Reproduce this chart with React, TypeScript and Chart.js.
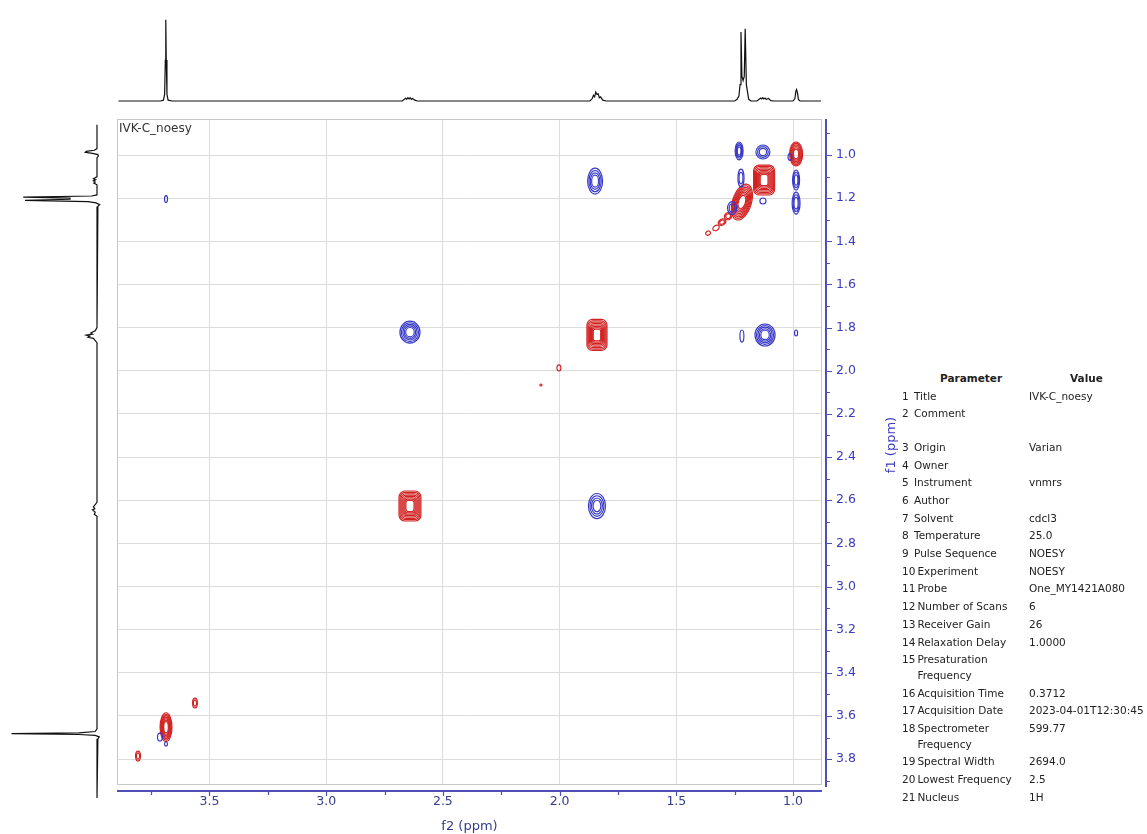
import React, { useEffect, useRef } from "react";
import { Chart, registerables } from "chart.js";

Chart.register(...registerables);

const FONT = "'DejaVu Sans', Verdana, sans-serif";
const RED = "#d32222";
const BLUE = "#3535c8";
const AXIS_BLUE = "#4f4fb8";
const X_LABEL = "#343c8c";
const Y_LABEL = "#3b3bc0";
const GRID = "#dcdcdc";

// axis ranges (ppm)
const f2Min = 0.876;
const f2Max = 3.896;
const f1Min = 0.833;
const f1Max = 3.92;

// tick labels
const f2Ticks = [1.0, 1.5, 2.0, 2.5, 3.0, 3.5];
const f2MinorTicks = [1.25, 1.75, 2.25, 2.75, 3.25, 3.75];
const f1Ticks = [1.0, 1.2, 1.4, 1.6, 1.8, 2.0, 2.2, 2.4, 2.6, 2.8, 3.0, 3.2, 3.4, 3.6, 3.8];
const f1MinorTicks = [0.9, 1.1, 1.3, 1.5, 1.7, 1.9, 2.1, 2.3, 2.5, 2.7, 2.9, 3.1, 3.3, 3.5, 3.7, 3.9];

// 2D cross peaks: f2, f1 (ppm), signed contour level count, widths (ppm)
const peakF2 = [1.231, 1.129, 0.987, 1.013, 1.124, 1.223, 0.987, 0.987, 1.219, 1.261, 1.129, 1.278, 1.304, 1.33, 1.364, 1.848, 3.686, 2.641, 1.84, 2.003, 2.08, 2.641, 1.84, 1.219, 1.12, 0.987, 3.686, 3.712, 3.686, 3.562, 3.806];
const peakF1 = [0.981, 0.986, 0.995, 1.009, 1.116, 1.107, 1.116, 1.223, 1.218, 1.246, 1.213, 1.283, 1.311, 1.338, 1.362, 1.121, 1.204, 1.821, 1.834, 1.987, 2.066, 2.627, 2.627, 1.839, 1.834, 1.825, 3.652, 3.698, 3.73, 3.54, 3.786];
const peakLevels = [-4, -3, 6, -1, 8, -2, -3, -3, 8, -2, -1, 2, 2, 1, 1, -4, -1, -5, 8, 1, 1, 8, -4, -1, -5, -1, 7, -1, -1, 2, 2];
const peakWidthF2 = [0.034, 0.06, 0.056, 0.017, 0.09, 0.026, 0.03, 0.034, 0.081, 0.039, 0.026, 0.034, 0.034, 0.03, 0.021, 0.064, 0.013, 0.086, 0.086, 0.017, 0.009, 0.094, 0.073, 0.017, 0.086, 0.013, 0.051, 0.021, 0.013, 0.021, 0.021];
const peakWidthF1 = [0.083, 0.065, 0.111, 0.032, 0.139, 0.083, 0.093, 0.102, 0.172, 0.06, 0.028, 0.032, 0.028, 0.023, 0.019, 0.12, 0.032, 0.102, 0.144, 0.028, 0.009, 0.139, 0.116, 0.056, 0.102, 0.028, 0.134, 0.037, 0.019, 0.046, 0.046];

// top (f2) projection trace
const topPpm = [3.89, 3.71, 3.697, 3.692, 3.689, 3.687, 3.685, 3.682, 3.677, 3.66, 2.675, 2.665, 2.66, 2.655, 2.65, 2.645, 2.64, 2.635, 2.63, 2.62, 2.61, 1.87, 1.86, 1.855, 1.85, 1.845, 1.84, 1.835, 1.83, 1.825, 1.815, 1.8, 1.25, 1.24, 1.232, 1.227, 1.223, 1.219, 1.214, 1.209, 1.205, 1.2, 1.19, 1.18, 1.155, 1.145, 1.14, 1.135, 1.13, 1.125, 1.12, 1.115, 1.105, 1.095, 1.08, 1.0, 0.992, 0.988, 0.985, 0.981, 0.977, 0.97, 0.88];
const topIntensity = [0, 0, 0.01, 0.08, 0.5, 0.99, 0.5, 0.08, 0.01, 0, 0, 0.02, 0.035, 0.02, 0.04, 0.025, 0.04, 0.02, 0.03, 0.01, 0, 0, 0.03, 0.07, 0.05, 0.11, 0.08, 0.09, 0.04, 0.05, 0.01, 0, 0, 0.02, 0.06, 0.2, 0.84, 0.3, 0.25, 0.3, 0.88, 0.2, 0.02, 0, 0, 0.02, 0.035, 0.025, 0.04, 0.025, 0.035, 0.02, 0.03, 0.005, 0, 0, 0.03, 0.12, 0.14, 0.1, 0.02, 0, 0];

// left (f1) projection trace
const leftPpm = [0.86, 0.97, 0.978, 0.983, 0.987, 0.992, 0.998, 1.005, 1.012, 1.1, 1.105, 1.11, 1.115, 1.12, 1.125, 1.13, 1.138, 1.185, 1.19, 1.195, 1.2, 1.205, 1.21, 1.216, 1.222, 1.23, 1.238, 1.248, 1.8, 1.815, 1.825, 1.83, 1.835, 1.84, 1.845, 1.85, 1.86, 1.87, 2.61, 2.62, 2.63, 2.64, 2.645, 2.655, 2.665, 2.675, 3.66, 3.672, 3.678, 3.682, 3.686, 3.69, 3.697, 3.706, 3.72, 3.98];
const leftIntensity = [0, 0, 0.03, 0.12, 0.13, 0.05, -0.01, -0.015, 0, 0, 0.02, 0.04, 0.015, 0.04, 0.02, 0.035, 0, 0, 0.06, 0.82, 0.3, 0.3, 0.8, 0.1, 0.01, -0.03, -0.01, 0, 0, 0.02, 0.07, 0.05, 0.12, 0.08, 0.1, 0.04, 0.02, 0, 0, 0.02, 0.04, 0.025, 0.05, 0.02, 0.03, 0, 0, 0.02, 0.2, 0.95, 0.2, 0.02, -0.025, -0.01, 0, 0];

// parameter table
const paramNums = [1, 2, 3, 4, 5, 6, 7, 8, 9, 10, 11, 12, 13, 14, 15, 16, 17, 18, 19, 20, 21];
const paramNames = ["Title", "Comment\n", "Origin", "Owner", "Instrument", "Author", "Solvent", "Temperature", "Pulse Sequence", "Experiment", "Probe", "Number of Scans", "Receiver Gain", "Relaxation Delay", "Presaturation\nFrequency", "Acquisition Time", "Acquisition Date", "Spectrometer\nFrequency", "Spectral Width", "Lowest Frequency", "Nucleus"];
const paramValues = ["IVK-C_noesy", "", "Varian", "", "vnmrs", "", "cdcl3", "25.0", "NOESY", "NOESY", "One_MY1421A080", "6", "26", "1.0000", "", "0.3712", "2023-04-01T12:30:45", "599.77", "2694.0", "2.5", "1H"];

const contourPlugin = {
  id: "contours",
  afterDatasetsDraw(chart: any) {
    const { ctx, chartArea, scales } = chart;
    const xs = scales.x;
    const ys = scales.y;
    ctx.save();
    ctx.beginPath();
    ctx.rect(chartArea.left, chartArea.top, chartArea.right - chartArea.left, chartArea.bottom - chartArea.top);
    ctx.clip();
    chart.data.datasets.forEach((ds: any, di: number) => {
      const meta = chart.getDatasetMeta(di);
      meta.data.forEach((el: any, i: number) => {
        const p = ds.data[i];
        const cx = el.x;
        const cy = el.y;
        const rx = Math.abs(xs.getPixelForValue(p.x + p.w / 2) - cx);
        const ry = Math.abs(ys.getPixelForValue(p.y + p.h / 2) - cy);
        const n = Math.abs(p.n);
        ctx.strokeStyle = ds.borderColor;
        ctx.lineWidth = 1.15;
        const square = n >= 7 && ry / rx < 1.6;
        // diagonal peaks lean along the f1 = f2 diagonal
        const onDiag = Math.abs(p.x - p.y) < 0.012 && p.x > 1.1 && p.x < 1.5;
        const rot = onDiag ? (ry > rx ? 0.3 : -0.6) : 0;
        for (let k = 0; k < n; k++) {
          const f = 1 - (k * 0.72) / n;
          const a = Math.max(rx * f, 0.7);
          const b = Math.max(ry * f, 0.7);
          ctx.beginPath();
          if (square) {
            ctx.roundRect(cx - a, cy - b, 2 * a, 2 * b, Math.min(a, b) * 0.55);
          } else {
            ctx.ellipse(cx, cy, a, b, rot, 0, Math.PI * 2);
          }
          ctx.stroke();
        }
      });
    });
    ctx.restore();
  },
};

const framePlugin = {
  id: "nmrFrame",
  afterDraw(chart: any) {
    const { ctx, chartArea, scales } = chart;
    const { left, right, top, bottom } = chartArea;
    ctx.save();
    ctx.strokeStyle = "#c8c8c8";
    ctx.lineWidth = 1;
    ctx.strokeRect(left + 0.5, top + 0.5, right - left - 1, bottom - top - 1);
    // blue axes
    ctx.strokeStyle = AXIS_BLUE;
    ctx.lineWidth = 2;
    const ax = right + 4;
    const ay = bottom + 6;
    ctx.beginPath();
    ctx.moveTo(ax, top);
    ctx.lineTo(ax, bottom + 2);
    ctx.moveTo(left, ay);
    ctx.lineTo(right, ay);
    ctx.stroke();
    ctx.lineWidth = 1.2;
    ctx.beginPath();
    f1Ticks.forEach((v) => {
      const py = Math.round(scales.y.getPixelForValue(v)) + 0.5;
      ctx.moveTo(ax, py);
      ctx.lineTo(ax + 6, py);
    });
    f1MinorTicks.forEach((v) => {
      const py = Math.round(scales.y.getPixelForValue(v)) + 0.5;
      ctx.moveTo(ax, py);
      ctx.lineTo(ax + 4, py);
    });
    f2Ticks.forEach((v) => {
      const px = Math.round(scales.x.getPixelForValue(v)) + 0.5;
      ctx.moveTo(px, ay);
      ctx.lineTo(px, ay + 5);
    });
    f2MinorTicks.forEach((v) => {
      const px = Math.round(scales.x.getPixelForValue(v)) + 0.5;
      ctx.moveTo(px, ay);
      ctx.lineTo(px, ay + 4);
    });
    ctx.stroke();
    // experiment title inside plot
    ctx.fillStyle = "#333";
    ctx.font = `12px ${FONT}`;
    ctx.textBaseline = "middle";
    ctx.textAlign = "left";
    ctx.fillText("IVK-C_noesy", left + 2, top + 10);
    ctx.restore();
  },
};

const baseOpts = {
  animation: false as const,
  responsive: false,
  events: [] as any[],
  plugins: { legend: { display: false }, tooltip: { enabled: false } },
};

const zeroPad = (s: any) => {
  s.paddingTop = 0;
  s.paddingBottom = 0;
  s.paddingLeft = 0;
  s.paddingRight = 0;
};

export default function App() {
  const topRef = useRef<HTMLCanvasElement>(null);
  const leftRef = useRef<HTMLCanvasElement>(null);
  const mainRef = useRef<HTMLCanvasElement>(null);

  useEffect(() => {
    document.body.style.margin = "0";
    const charts: Chart[] = [];

    const peaks = peakF2.map((x, i) => ({ x, y: peakF1[i], n: peakLevels[i], w: peakWidthF2[i], h: peakWidthF1[i] }));

    if (mainRef.current) {
      charts.push(
        new Chart(mainRef.current, {
          type: "scatter",
          data: {
            datasets: [
              { label: "positive", data: peaks.filter((p) => p.n > 0), borderColor: RED, backgroundColor: RED, pointRadius: 0 },
              { label: "negative", data: peaks.filter((p) => p.n < 0), borderColor: BLUE, backgroundColor: BLUE, pointRadius: 0 },
            ] as any,
          },
          options: {
            ...baseOpts,
            layout: { padding: { left: 117, right: 0, top: 9, bottom: 0 } },
            scales: {
              x: {
                type: "linear",
                min: f2Min,
                max: f2Max,
                reverse: true,
                afterBuildTicks: (s: any) => {
                  s.ticks = f2Ticks.map((v) => ({ value: v }));
                },
                afterFit: (s: any) => {
                  s.height = 49;
                  zeroPad(s);
                },
                grid: { color: GRID, lineWidth: 1, drawTicks: false },
                border: { display: false },
                ticks: {
                  color: X_LABEL,
                  font: { family: FONT, size: 12.5 },
                  padding: 9,
                  maxRotation: 0,
                  autoSkip: false,
                  callback: (v: any) => Number(v).toFixed(1),
                },
                title: { display: true, text: "f2 (ppm)", color: X_LABEL, font: { family: FONT, size: 13 }, padding: { top: 0, bottom: 0 } },
              },
              y: {
                type: "linear",
                position: "right",
                min: f1Min,
                max: f1Max,
                reverse: true,
                afterBuildTicks: (s: any) => {
                  s.ticks = f1Ticks.map((v) => ({ value: v }));
                },
                afterFit: (s: any) => {
                  s.width = 78;
                  zeroPad(s);
                },
                grid: { color: GRID, lineWidth: 1, drawTicks: false },
                border: { display: false },
                ticks: {
                  color: Y_LABEL,
                  font: { family: FONT, size: 12.5 },
                  padding: 14,
                  autoSkip: false,
                  callback: (v: any) => Number(v).toFixed(1),
                },
              },
            },
          } as any,
          plugins: [contourPlugin, framePlugin],
        })
      );
    }

    if (topRef.current) {
      charts.push(
        new Chart(topRef.current, {
          type: "scatter",
          data: {
            datasets: [
              {
                data: topPpm.map((p, i) => ({ x: p, y: topIntensity[i] })),
                showLine: true,
                borderColor: "#111",
                borderWidth: 1.2,
                pointRadius: 0,
                clip: false,
              },
            ] as any,
          },
          options: {
            ...baseOpts,
            layout: { padding: { left: 117, right: 78, top: 19, bottom: 9 } },
            scales: {
              x: { type: "linear", display: false, min: f2Min, max: f2Max, reverse: true },
              y: { type: "linear", display: false, min: 0, max: 1 },
            },
          } as any,
        })
      );
    }

    if (leftRef.current) {
      charts.push(
        new Chart(leftRef.current, {
          type: "scatter",
          data: {
            datasets: [
              {
                data: leftPpm.map((p, i) => ({ x: leftIntensity[i], y: p })),
                showLine: true,
                borderColor: "#111",
                borderWidth: 1.2,
                pointRadius: 0,
                clip: false,
              },
            ] as any,
          },
          options: {
            ...baseOpts,
            layout: { padding: { left: 7, right: 20, top: 9, bottom: 49 } },
            scales: {
              x: { type: "linear", display: false, min: 0, max: 1, reverse: true },
              y: { type: "linear", display: false, min: f1Min, max: f1Max, reverse: true },
            },
          } as any,
        })
      );
    }

    return () => charts.forEach((c) => c.destroy());
  }, []);

  // table rows with cumulative layout
  const rowLine = 15.7;
  let cursor = 370 + 17.7;
  const rows = paramNums.map((num, i) => {
    const lines = paramNames[i].split("\n").length;
    const top = cursor;
    const h = lines * rowLine + 2;
    cursor += h;
    return { num, name: paramNames[i], value: paramValues[i], top, h };
  });

  return (
    <div style={{ position: "fixed", left: 0, top: 0, width: 1147, height: 834, background: "#fff", fontFamily: FONT, overflow: "hidden" }}>
      <canvas ref={topRef} width={900} height={110} style={{ position: "absolute", left: 0, top: 0 }} />
      <canvas ref={leftRef} width={117} height={724} style={{ position: "absolute", left: 0, top: 110 }} />
      <canvas ref={mainRef} width={900} height={724} style={{ position: "absolute", left: 0, top: 110 }} />
      <div
        style={{
          position: "absolute",
          left: 890,
          top: 445,
          transform: "translate(-50%, -50%) rotate(-90deg)",
          color: Y_LABEL,
          fontSize: 13,
          whiteSpace: "nowrap",
        }}
      >
        f1 (ppm)
      </div>
      <div style={{ position: "absolute", left: 940, top: 370, height: 17.7, lineHeight: "17.7px", fontSize: 10.5, fontWeight: "bold", color: "#222" }}>Parameter</div>
      <div style={{ position: "absolute", left: 1070, top: 370, height: 17.7, lineHeight: "17.7px", fontSize: 10.5, fontWeight: "bold", color: "#222" }}>Value</div>
      {rows.map((r) => (
        <React.Fragment key={r.num}>
          <div style={{ position: "absolute", left: 902, top: r.top + 1, lineHeight: `${rowLine}px`, fontSize: 10.5, color: "#222", whiteSpace: "pre" }}>
            <span style={{ display: "inline-block", minWidth: 10, marginRight: 2, verticalAlign: "top" }}>{r.num}</span>
            <span style={{ display: "inline-block", verticalAlign: "top" }}>{r.name}</span>
          </div>
          <div style={{ position: "absolute", left: 1029, top: r.top + 1, lineHeight: `${rowLine}px`, fontSize: 10.5, color: "#222", whiteSpace: "pre" }}>{r.value}</div>
        </React.Fragment>
      ))}
    </div>
  );
}
